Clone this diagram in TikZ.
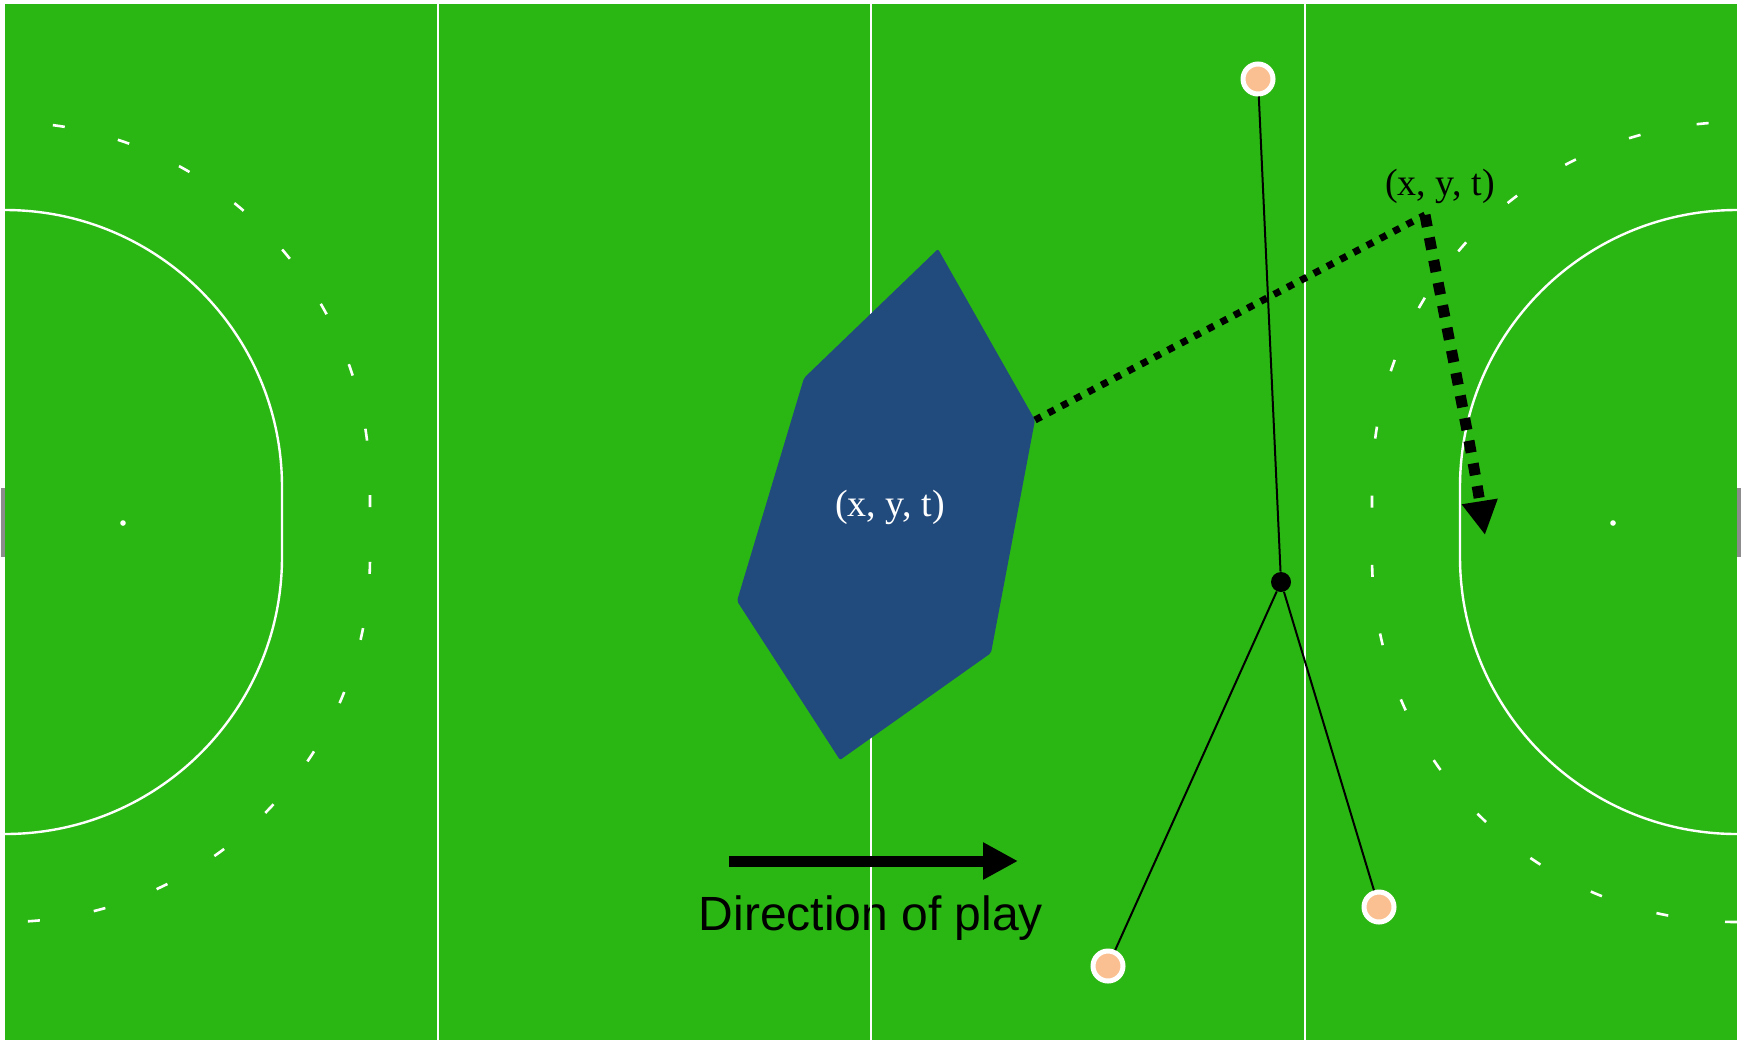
\documentclass[tikz,border=0pt]{standalone}
\usepackage{fontspec}
\setmainfont{Liberation Serif}
\newfontfamily\arialfont{Liberation Sans}
\usetikzlibrary{arrows.meta}
\definecolor{pitch}{RGB}{43,183,19}
\definecolor{zone}{RGB}{33,74,125}
\definecolor{skin}{RGB}{251,192,145}
\definecolor{goalgray}{RGB}{140,140,140}
\tikzset{
  fieldline/.style={white, line width=1.1pt},
  circline/.style={white, line width=1.2pt},
  dashline/.style={white, line width=1.3pt},
  player/.style={circle, fill=skin, draw=white, line width=2.5pt, minimum size=15pt, inner sep=0pt},
  hub/.style={circle, fill=black, minimum size=10pt, inner sep=0pt},
  link/.style={black, line width=1pt},
  trackthin/.style={black, line width=3.5pt, dash pattern=on 3.5pt off 4pt},
  trackthick/.style={black, line width=5.5pt, dash pattern=on 6pt off 5.5pt,
     -{Triangle[length=17pt, width=17pt]}},
  dirarrow/.style={black, line width=5.5pt, -{Triangle[length=17.5pt, width=17.5pt]}},
  serlabel/.style={font=\fontsize{19pt}{19pt}\selectfont, inner sep=0pt, anchor=base},
}
\begin{document}
\begin{tikzpicture}[x=0.5pt, y=-0.5pt]
\useasboundingbox (0,0) rectangle (1746,1040);
\fill[white] (0,0) rectangle (1746,1040);
\fill[pitch] (5,4) rectangle (1737,1040);
% goal marks
\fill[goalgray] (1,488) rectangle (5,557);
\fill[goalgray] (1737,488) rectangle (1741,557);
% direction text (under the lines)
\node[anchor=base, inner sep=0pt, font=\arialfont\fontsize{24pt}{25pt}\selectfont] (dirtext) at (871,930) {Direction of play};
% vertical lines
\draw[fieldline] (438,4) -- (438,1040);
\draw[fieldline] (871,4) -- (871,1040);
\draw[fieldline] (1305,4) -- (1305,1040);
% left D
\draw[circline] (5,210) arc[start angle=-90, end angle=0, radius=277] -- (282,557) arc[start angle=0, end angle=90, radius=277];
% right D
\draw[circline] (1737,210) arc[start angle=-90, end angle=-180, radius=277] -- (1460,557) arc[start angle=180, end angle=90, radius=277];
% dashed circles
\draw[dashline, dash pattern=on 6pt off 27.35pt, dash phase=9.35pt] (5,122) arc[start angle=-90, end angle=0, radius=365] -- (370,557) arc[start angle=0, end angle=90, radius=365];
\draw[dashline, dash pattern=on 6pt off 28.6pt, dash phase=0pt] (1737,922) arc[start angle=90, end angle=180, radius=365] -- (1372,487) arc[start angle=180, end angle=270, radius=365];
% penalty spots
\fill[white] (123,523) circle[radius=2.8];
\fill[white] (1613,523) circle[radius=2.8];
% zone polygon
\coordinate (zA) at (938,249);
\coordinate (zB) at (1035,420);
\coordinate (zC) at (991,653);
\coordinate (zD) at (840,760);
\coordinate (zE) at (737,601);
\coordinate (zF) at (804,378);
\fill[zone, rounded corners=1pt] (zA) -- (zB) -- (zC) -- (zD) -- (zE) -- (zF) -- cycle;
\node[serlabel, text=white] (zlabel) at (890,516) {(x, y, t)};
% tracks
\coordinate (corner) at (1425,215);
\coordinate (tip) at (1485,535);
\draw[trackthin] (zB) -- (corner);
\draw[trackthick] (corner) .. controls (1445,320) and (1470,440) .. (tip);
\node[serlabel, text=black] (clabel) at (1440,195) {(x, y, t)};
% players
\node[player] (p1) at (1258,79) {};
\node[player] (p2) at (1108,966) {};
\node[player] (p3) at (1379,907) {};
\node[hub] (h) at (1281,582) {};
\draw[link] (p1) -- (h);
\draw[link] (h) -- (p2);
\draw[link] (h) -- (p3);
% direction arrow
\coordinate (dstart) at (729,861);
\coordinate (dend) at (1018,861);
\draw[dirarrow] (dstart) -- (dend);
\end{tikzpicture}
\end{document}
